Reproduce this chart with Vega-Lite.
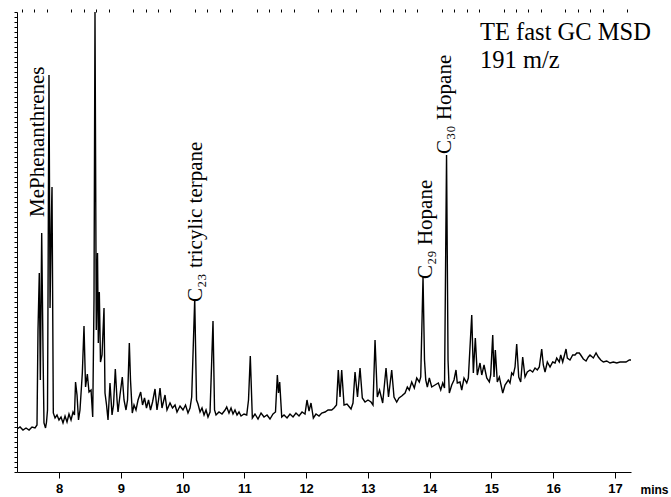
{
  "$schema": "https://vega.github.io/schema/vega-lite/v6.json",
  "width": 614,
  "height": 460,
  "autosize": "none",
  "padding": {"left": 17, "top": 12, "right": 40, "bottom": 25},
  "background": "white",
  "config": {"view": {"stroke": null}},
  "resolve": {"axis": {"x": "independent"}},
  "datasets": {
    "trace": [
      {"t":7.318,"i":43},{"t":7.367,"i":45},{"t":7.415,"i":42},{"t":7.464,"i":44},{"t":7.513,"i":42},{"t":7.561,"i":45},{"t":7.610,"i":44},{"t":7.642,"i":47},{"t":7.658,"i":142},{"t":7.679,"i":199},{"t":7.696,"i":92},{"t":7.718,"i":239},{"t":7.739,"i":122},{"t":7.755,"i":49},{"t":7.780,"i":44},{"t":7.796,"i":50},{"t":7.812,"i":62},{"t":7.836,"i":397},{"t":7.853,"i":164},{"t":7.874,"i":252},{"t":7.885,"i":285},{"t":7.906,"i":59},{"t":7.934,"i":54},{"t":7.966,"i":57},{"t":7.998,"i":52},{"t":8.031,"i":55},{"t":8.063,"i":49},{"t":8.096,"i":56},{"t":8.128,"i":50},{"t":8.160,"i":58},{"t":8.193,"i":52},{"t":8.225,"i":60},{"t":8.249,"i":57},{"t":8.266,"i":90},{"t":8.290,"i":77},{"t":8.314,"i":52},{"t":8.338,"i":62},{"t":8.376,"i":99},{"t":8.403,"i":146},{"t":8.428,"i":85},{"t":8.457,"i":98},{"t":8.484,"i":80},{"t":8.517,"i":82},{"t":8.544,"i":55},{"t":8.565,"i":172},{"t":8.581,"i":460},{"t":8.602,"i":142},{"t":8.622,"i":219},{"t":8.635,"i":129},{"t":8.651,"i":180},{"t":8.670,"i":110},{"t":8.695,"i":117},{"t":8.727,"i":164},{"t":8.743,"i":79},{"t":8.768,"i":67},{"t":8.792,"i":52},{"t":8.824,"i":89},{"t":8.857,"i":57},{"t":8.881,"i":67},{"t":8.910,"i":103},{"t":8.938,"i":72},{"t":8.954,"i":60},{"t":8.986,"i":77},{"t":9.023,"i":95},{"t":9.051,"i":72},{"t":9.083,"i":62},{"t":9.108,"i":72},{"t":9.137,"i":129},{"t":9.156,"i":92},{"t":9.185,"i":59},{"t":9.213,"i":67},{"t":9.245,"i":62},{"t":9.278,"i":72},{"t":9.321,"i":80},{"t":9.351,"i":67},{"t":9.383,"i":74},{"t":9.415,"i":64},{"t":9.448,"i":72},{"t":9.480,"i":62},{"t":9.513,"i":70},{"t":9.553,"i":83},{"t":9.585,"i":62},{"t":9.610,"i":72},{"t":9.634,"i":84},{"t":9.666,"i":64},{"t":9.715,"i":77},{"t":9.747,"i":62},{"t":9.796,"i":69},{"t":9.836,"i":64},{"t":9.877,"i":67},{"t":9.909,"i":60},{"t":9.958,"i":66},{"t":10.006,"i":62},{"t":10.047,"i":67},{"t":10.087,"i":59},{"t":10.120,"i":64},{"t":10.147,"i":75},{"t":10.196,"i":173},{"t":10.225,"i":72},{"t":10.249,"i":68},{"t":10.282,"i":60},{"t":10.314,"i":64},{"t":10.347,"i":57},{"t":10.379,"i":62},{"t":10.411,"i":55},{"t":10.444,"i":60},{"t":10.492,"i":151},{"t":10.517,"i":62},{"t":10.541,"i":57},{"t":10.589,"i":60},{"t":10.638,"i":58},{"t":10.687,"i":62},{"t":10.714,"i":65},{"t":10.751,"i":59},{"t":10.784,"i":64},{"t":10.816,"i":58},{"t":10.848,"i":62},{"t":10.881,"i":57},{"t":10.913,"i":60},{"t":10.946,"i":56},{"t":10.994,"i":58},{"t":11.038,"i":57},{"t":11.067,"i":72},{"t":11.096,"i":116},{"t":11.129,"i":54},{"t":11.172,"i":58},{"t":11.221,"i":53},{"t":11.270,"i":59},{"t":11.318,"i":55},{"t":11.367,"i":57},{"t":11.415,"i":53},{"t":11.464,"i":58},{"t":11.504,"i":60},{"t":11.534,"i":97},{"t":11.553,"i":79},{"t":11.572,"i":90},{"t":11.605,"i":55},{"t":11.642,"i":57},{"t":11.691,"i":54},{"t":11.739,"i":58},{"t":11.788,"i":55},{"t":11.836,"i":59},{"t":11.885,"i":56},{"t":11.934,"i":60},{"t":11.982,"i":58},{"t":12.014,"i":72},{"t":12.047,"i":61},{"t":12.079,"i":69},{"t":12.117,"i":54},{"t":12.160,"i":58},{"t":12.209,"i":56},{"t":12.253,"i":59},{"t":12.306,"i":60},{"t":12.355,"i":62},{"t":12.414,"i":62},{"t":12.452,"i":64},{"t":12.492,"i":67},{"t":12.521,"i":102},{"t":12.549,"i":75},{"t":12.576,"i":102},{"t":12.614,"i":67},{"t":12.662,"i":68},{"t":12.727,"i":63},{"t":12.759,"i":69},{"t":12.792,"i":100},{"t":12.832,"i":75},{"t":12.873,"i":104},{"t":12.910,"i":74},{"t":12.954,"i":70},{"t":13.002,"i":72},{"t":13.051,"i":70},{"t":13.083,"i":67},{"t":13.116,"i":132},{"t":13.153,"i":75},{"t":13.189,"i":82},{"t":13.240,"i":69},{"t":13.294,"i":104},{"t":13.334,"i":75},{"t":13.386,"i":102},{"t":13.423,"i":75},{"t":13.467,"i":70},{"t":13.504,"i":74},{"t":13.548,"i":76},{"t":13.602,"i":79},{"t":13.639,"i":85},{"t":13.671,"i":82},{"t":13.710,"i":90},{"t":13.752,"i":84},{"t":13.791,"i":94},{"t":13.833,"i":90},{"t":13.856,"i":95},{"t":13.893,"i":195},{"t":13.917,"i":112},{"t":13.937,"i":92},{"t":13.963,"i":85},{"t":13.995,"i":94},{"t":14.034,"i":85},{"t":14.087,"i":87},{"t":14.141,"i":89},{"t":14.180,"i":82},{"t":14.212,"i":89},{"t":14.241,"i":84},{"t":14.274,"i":317},{"t":14.298,"i":112},{"t":14.319,"i":79},{"t":14.358,"i":87},{"t":14.395,"i":92},{"t":14.427,"i":102},{"t":14.448,"i":89},{"t":14.492,"i":90},{"t":14.520,"i":82},{"t":14.557,"i":94},{"t":14.601,"i":89},{"t":14.627,"i":94},{"t":14.682,"i":157},{"t":14.708,"i":99},{"t":14.740,"i":134},{"t":14.772,"i":97},{"t":14.816,"i":109},{"t":14.844,"i":97},{"t":14.881,"i":107},{"t":14.925,"i":94},{"t":14.967,"i":90},{"t":14.989,"i":97},{"t":15.022,"i":137},{"t":15.043,"i":95},{"t":15.064,"i":122},{"t":15.096,"i":90},{"t":15.129,"i":95},{"t":15.184,"i":79},{"t":15.221,"i":87},{"t":15.274,"i":92},{"t":15.302,"i":89},{"t":15.329,"i":99},{"t":15.355,"i":97},{"t":15.383,"i":105},{"t":15.410,"i":128},{"t":15.443,"i":95},{"t":15.475,"i":90},{"t":15.507,"i":115},{"t":15.545,"i":95},{"t":15.582,"i":100},{"t":15.626,"i":102},{"t":15.669,"i":100},{"t":15.707,"i":104},{"t":15.744,"i":102},{"t":15.776,"i":105},{"t":15.815,"i":123},{"t":15.841,"i":107},{"t":15.869,"i":100},{"t":15.906,"i":110},{"t":15.950,"i":105},{"t":15.993,"i":110},{"t":16.031,"i":109},{"t":16.058,"i":114},{"t":16.100,"i":110},{"t":16.123,"i":117},{"t":16.155,"i":110},{"t":16.209,"i":123},{"t":16.230,"i":114},{"t":16.273,"i":112},{"t":16.317,"i":117},{"t":16.355,"i":117},{"t":16.382,"i":119},{"t":16.424,"i":119},{"t":16.447,"i":117},{"t":16.489,"i":113},{"t":16.533,"i":111},{"t":16.570,"i":115},{"t":16.597,"i":117},{"t":16.651,"i":114},{"t":16.695,"i":119},{"t":16.732,"i":115},{"t":16.771,"i":112},{"t":16.813,"i":110},{"t":16.868,"i":111},{"t":16.921,"i":109},{"t":16.975,"i":110},{"t":17.030,"i":109},{"t":17.083,"i":110},{"t":17.137,"i":110},{"t":17.180,"i":110},{"t":17.234,"i":112},{"t":17.261,"i":112}
    ],
    "peaks": [
      {"t":7.65,"i":255,"txt":"MePhenanthrenes"},
      {"t":10.209,"i":170,"txt":"C₂₃ tricylic terpane"},
      {"t":13.934,"i":193,"txt":"C₂₉ Hopane"},
      {"t":14.257,"i":318,"txt":"C₃₀ Hopane"}
    ],
    "notes": [
      {"t":14.816,"i":432,"txt":"TE fast GC MSD"},
      {"t":14.816,"i":404,"txt":"191 m/z"}
    ]
  },
  "layer": [
    {
      "data": {"name": "trace"},
      "mark": {"type": "line", "color": "black", "strokeWidth": 1.4, "clip": true},
      "encoding": {
        "x": {
          "field": "t", "type": "quantitative",
          "scale": {"domain": [7.318, 17.261], "nice": false, "zero": false},
          "axis": {
            "values": [8, 9, 10, 11, 12, 13, 14, 15, 16, 17],
            "tickSize": 6,
            "grid": false,
            "domainColor": "black", "tickColor": "black", "labelColor": "black",
            "labelFont": "Liberation Sans", "labelFontWeight": "bold", "labelFontSize": 13,
            "labelPadding": 4, "labelOverlap": false, "labelFlush": false,
            "title": "mins",
            "titleFont": "Liberation Sans", "titleFontWeight": "bold", "titleFontSize": 12, "titleColor": "black",
            "titleAnchor": "end", "titleAngle": 0, "titleAlign": "left", "titleBaseline": "middle",
            "titleX": 623, "titleY": 17
          }
        },
        "y": {
          "field": "i", "type": "quantitative",
          "scale": {"domain": [0, 460], "nice": false, "zero": false},
          "axis": {"labels": false, "title": null, "tickCount": 100, "tickSize": 3, "grid": false, "domainColor": "black", "tickColor": "black"}
        }
      }
    },
    {
      "data": {"name": "peaks"},
      "mark": {"type": "text", "angle": 270, "align": "left", "baseline": "middle", "font": "Liberation Serif", "fontSize": 21, "color": "black"},
      "encoding": {
        "x": {
          "field": "t", "type": "quantitative",
          "axis": {
            "values": [7.4,7.6,7.8,8.2,8.4,8.6,8.8,9.2,9.4,9.6,9.8,10.2,10.4,10.6,10.8,11.2,11.4,11.6,11.8,12.2,12.4,12.6,12.8,13.2,13.4,13.6,13.8,14.2,14.4,14.6,14.8,15.2,15.4,15.6,15.8,16.2,16.4,16.6,16.8,17.2],
            "labels": false, "domain": false, "grid": false, "title": null,
            "tickSize": 3, "tickColor": "black"
          }
        },
        "y": {"field": "i", "type": "quantitative"},
        "text": {"field": "txt"}
      }
    },
    {
      "data": {"name": "notes"},
      "mark": {"type": "text", "align": "left", "baseline": "alphabetic", "font": "Liberation Serif", "fontSize": 24.5, "color": "black"},
      "encoding": {
        "x": {"field": "t", "type": "quantitative", "axis": null},
        "y": {"field": "i", "type": "quantitative"},
        "text": {"field": "txt"}
      }
    }
  ]
}
